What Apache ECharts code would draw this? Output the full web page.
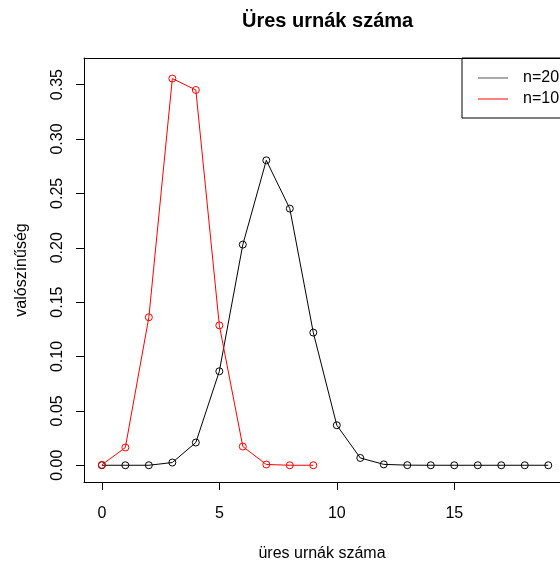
<!DOCTYPE html>
<html>
<head>
<meta charset="utf-8">
<title>Üres urnák száma</title>
<script src="https://cdn.jsdelivr.net/npm/echarts@6/dist/echarts.min.js"></script>
<style>
  html, body { margin: 0; padding: 0; background: #fff; }
  #chart { width: 560px; height: 563px; }
</style>
</head>
<body>
<div id="chart"></div>
<script>
// number of empty urns
const emptyUrns20 = [0, 1, 2, 3, 4, 5, 6, 7, 8, 9, 10, 11, 12, 13, 14, 15, 16, 17, 18, 19]
const emptyUrns10 = [0, 1, 2, 3, 4, 5, 6, 7, 8, 9]

// probabilities
const prob20 = [0, 0, 0, 0.0025, 0.0209, 0.0864, 0.2029, 0.2804, 0.2360, 0.1220,
  0.0368, 0.0067, 0.0008, 0.0001, 0, 0, 0, 0, 0, 0]
const prob10 = [0.0004, 0.0163, 0.1361, 0.3556, 0.3451, 0.1286, 0.0172, 0.0007, 0, 0]

const xTicks = [0, 5, 10, 15]
const yTicks = [0, 0.05, 0.1, 0.15, 0.2, 0.25, 0.3, 0.35]

const FONT = "'Liberation Sans', Arial, sans-serif"

// x range runs past the right edge of the picture (box right side is cut off)
const X_MIN = -0.76
const X_MAX = 19.5

const toPairs = (xs, ys) => xs.map((x, i) => [x, ys[i]])

const chart = echarts.init(document.getElementById('chart'), null, { renderer: 'canvas' })

const seriesStyle = (color) => ({
  type: 'line',
  symbol: 'circle',
  symbolSize: 7,
  showAllSymbol: true,
  lineStyle: { color: color, width: 1 },
  itemStyle: { color: 'rgba(0,0,0,0)', borderColor: color, borderWidth: 1 },
  emphasis: { disabled: true }
})

chart.setOption({
  animation: false,
  backgroundColor: '#fff',
  textStyle: { fontFamily: FONT },
  title: {
    text: 'Üres urnák száma',
    left: 237,
    top: 6,
    textStyle: { fontFamily: FONT, fontSize: 20, fontWeight: 'bold', color: '#000' }
  },
  legend: {
    orient: 'vertical',
    left: 462,
    top: 58,
    padding: [12, 30, 11, 16],
    itemGap: 5,
    itemWidth: 30,
    itemHeight: 1,
    icon: 'rect',
    itemStyle: { borderWidth: 0 },
    borderColor: '#000',
    borderWidth: 1,
    borderRadius: 0,
    textStyle: { fontFamily: FONT, fontSize: 16, color: '#000', padding: [0, 0, 0, 10] },
    data: [
      { name: 'n=20', itemStyle: { color: '#555', borderWidth: 0 } },
      { name: 'n=10', itemStyle: { color: '#ff0000', borderWidth: 0 } }
    ]
  },
  grid: {
    left: 84,
    top: 58,
    right: 0,
    bottom: 81,
    show: false,
    containLabel: false,
    outerBoundsMode: 'none'
  },
  xAxis: [
    {
      type: 'value',
      position: 'bottom',
      min: X_MIN,
      max: X_MAX,
      name: 'üres urnák száma',
      nameLocation: 'middle',
      nameGap: 64,
      nameTextStyle: { fontFamily: FONT, fontSize: 16, color: '#000' },
      axisLine: { show: true, onZero: false, lineStyle: { color: '#000', width: 1 } },
      axisTick: { show: true, inside: false, length: 8, customValues: xTicks, lineStyle: { color: '#000' } },
      axisLabel: {
        customValues: xTicks,
        margin: 24,
        fontFamily: FONT,
        fontSize: 16,
        color: '#000'
      },
      splitLine: { show: false }
    },
    {
      // top side of the box
      type: 'value',
      position: 'top',
      min: X_MIN,
      max: X_MAX,
      axisLine: { show: true, onZero: false, lineStyle: { color: '#000', width: 1 } },
      axisTick: { show: false },
      axisLabel: { show: false },
      splitLine: { show: false }
    }
  ],
  yAxis: {
    type: 'value',
    min: -0.0154,
    max: 0.3745,
    name: 'valószínűség',
    nameLocation: 'middle',
    nameGap: 54,
    nameTextStyle: { fontFamily: FONT, fontSize: 16, color: '#000' },
    axisLine: { show: true, onZero: false, lineStyle: { color: '#000', width: 1 } },
    axisTick: { show: true, inside: false, length: 8, customValues: yTicks, lineStyle: { color: '#000' } },
    axisLabel: {
      customValues: yTicks,
      rotate: 90,
      margin: 18,
      fontFamily: FONT,
      fontSize: 16,
      color: '#000',
      formatter: (v) => v.toFixed(2)
    },
    splitLine: { show: false }
  },
  series: [
    Object.assign({ name: 'n=20', data: toPairs(emptyUrns20, prob20) }, seriesStyle('#000')),
    Object.assign({ name: 'n=10', data: toPairs(emptyUrns10, prob10) }, seriesStyle('#ff0000'))
  ]
})
</script>
</body>
</html>
